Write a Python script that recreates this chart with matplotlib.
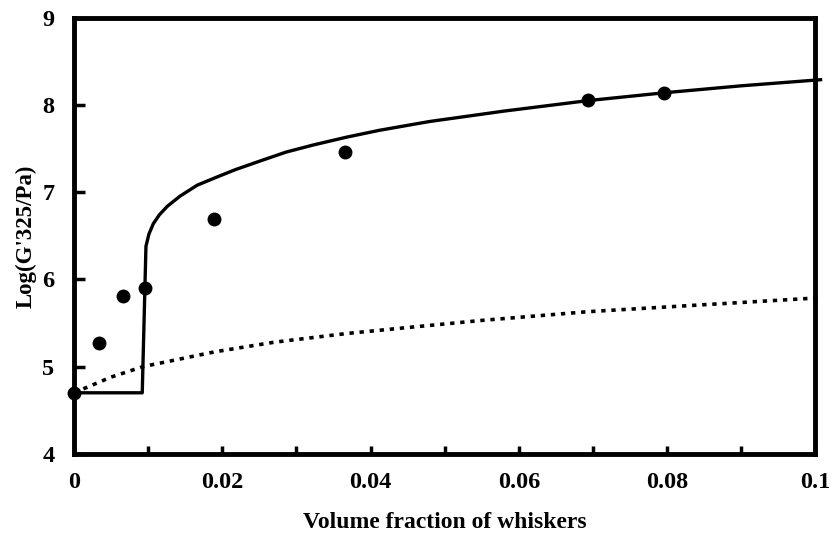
import matplotlib.pyplot as plt
from matplotlib.ticker import MultipleLocator

plt.rcParams['font.family'] = ['Liberation Serif', 'DejaVu Serif']
plt.rcParams['font.weight'] = 'bold'

# measured data
phi_data = [0.0, 0.0034, 0.0066, 0.0096, 0.0189, 0.0365, 0.0693, 0.0796]
logG_data = [4.70, 5.27, 5.81, 5.90, 6.69, 7.46, 8.06, 8.14]

# percolation model (solid)
phi_perc = [0.0, 0.0092, 0.0097, 0.0101, 0.0107, 0.0115, 0.0126, 0.0143,
            0.0166, 0.0193, 0.0218, 0.0250, 0.0286, 0.0322, 0.0367, 0.0412,
            0.0479, 0.0580, 0.0693, 0.0796, 0.0900, 0.1007]
logG_perc = [4.70, 4.70, 6.38, 6.52, 6.64, 6.74, 6.84, 6.955,
             7.08, 7.175, 7.26, 7.355, 7.46, 7.54, 7.63, 7.71,
             7.81, 7.93, 8.05, 8.14, 8.22, 8.29]

# mean field model (dotted)
phi_mf = [0.0, 0.0050, 0.0093, 0.0150, 0.019, 0.0270, 0.0368, 0.044,
          0.0550, 0.0693, 0.0850, 0.1007]
logG_mf = [4.70, 4.88, 5.00, 5.10, 5.17, 5.28, 5.38, 5.44,
           5.53, 5.63, 5.71, 5.79]

fig = plt.figure(figsize=(8.32, 5.39), dpi=100)
ax = fig.add_axes([0.089, 0.158, 0.891, 0.809])

ax.plot(phi_perc, logG_perc, color='black', lw=2.4, clip_on=False, zorder=3)
ax.plot(phi_mf, logG_mf, color='black', lw=2.6, linestyle=(0, (1.2, 1.6)),
        clip_on=False, zorder=3)
ax.plot(phi_data, logG_data, 'o', color='black', ms=9, clip_on=False, zorder=4)

ax.set_xlim(0, 0.1)
ax.set_ylim(4, 9)
ax.xaxis.set_minor_locator(MultipleLocator(0.01))
ax.yaxis.set_major_locator(MultipleLocator(1))
ax.set_xticks([0, 0.02, 0.04, 0.06, 0.08, 0.1])
ax.set_xticklabels(['0', '0.02', '0.04', '0.06', '0.08', '0.1'])

ax.tick_params(which='both', direction='in', width=2.5, labelsize=17.5)
ax.tick_params(axis='x', which='both', length=6, pad=13)
ax.tick_params(axis='y', length=8, pad=14)

for s in ax.spines.values():
    s.set_linewidth(3.5)

ax.set_xlabel('Volume fraction of whiskers', fontsize=17, fontweight='bold', labelpad=14)
ax.set_ylabel("Log(G'325/Pa)", fontsize=16.5, fontweight='bold', labelpad=4)

fig.savefig('out.png', dpi=100)
